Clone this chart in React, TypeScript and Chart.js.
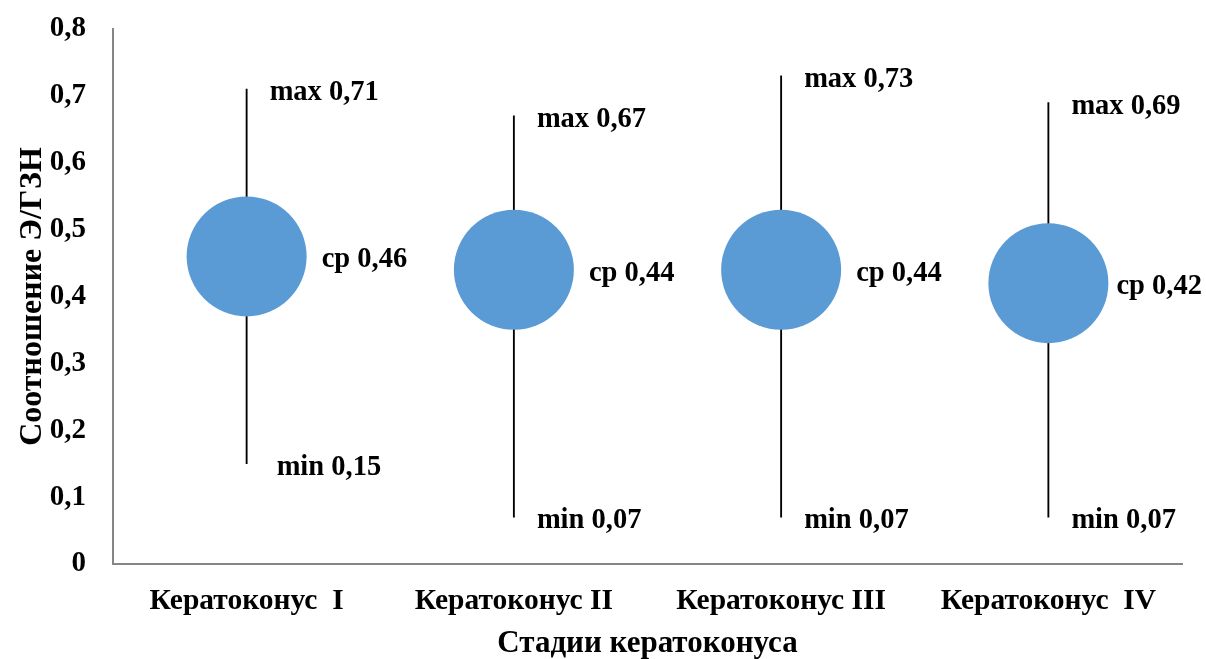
import React, { useEffect, useRef } from "react";
import { Chart, registerables } from "chart.js";

Chart.register(...registerables);

const categories = ["Кератоконус  I", "Кератоконус II", "Кератоконус III", "Кератоконус  IV"];
const minValues = [0.15, 0.07, 0.07, 0.07];
const maxValues = [0.71, 0.67, 0.73, 0.69];
const meanValues = [0.46, 0.44, 0.44, 0.42];
const yTicks = [0, 0.1, 0.2, 0.3, 0.4, 0.5, 0.6, 0.7, 0.8];

const FONT = "'Liberation Serif', 'Times New Roman', serif";
const FS_LABEL = 28.5;
const FS_TICK = 29;
const FS_CAT = 29.5;
const FS_XTITLE = 31;
const FS_YTITLE = 32;
const maxLabelDx = [23, 23, 23, 23];
const minLabelDx = [30, 23, 23, 23];
const meanLabelDx = [75, 75, 75, 68];
const labelDy = 11;

const fmt = (v: number) => (v === 0 ? "0" : v.toFixed(2).replace(/0$/, "").replace(".", ","));

const labelPlugin = {
  id: "rangeLabels",
  afterDatasetsDraw(chart: any) {
    const { ctx, scales } = chart;
    const xs = scales.x;
    const ys = scales.y;
    ctx.save();
    ctx.font = `bold ${FS_LABEL}px ${FONT}`;
    ctx.fillStyle = "#000";
    ctx.textAlign = "left";
    ctx.textBaseline = "alphabetic";
    categories.forEach((_, i) => {
      const x = xs.getPixelForValue(i);
      ctx.fillText("max " + fmt(maxValues[i]), x + maxLabelDx[i], ys.getPixelForValue(maxValues[i]) + labelDy);
      ctx.fillText("min " + fmt(minValues[i]), x + minLabelDx[i], ys.getPixelForValue(minValues[i]) + labelDy);
      ctx.fillText("ср " + fmt(meanValues[i]), x + meanLabelDx[i], ys.getPixelForValue(meanValues[i]) + labelDy);
    });
    ctx.restore();
  },
};

export default function App() {
  const ref = useRef<HTMLCanvasElement>(null);
  useEffect(() => {
    if (!ref.current) return;
    const chart = new Chart(ref.current, {
      type: "bar",
      data: {
        labels: categories,
        datasets: [
          {
            type: "bar",
            data: minValues.map((m, i) => [m, maxValues[i]]) as any,
            backgroundColor: "#000000",
            borderWidth: 0,
            barThickness: 1.2,
            order: 2,
          },
          {
            type: "line",
            data: meanValues,
            showLine: false,
            pointRadius: 60,
            pointHoverRadius: 60,
            pointBackgroundColor: "#5B9BD5",
            pointBorderWidth: 0,
            pointBorderColor: "#5B9BD5",
            order: 1,
          } as any,
        ],
      },
      options: {
        responsive: false,
        animation: false,
        layout: { autoPadding: false, padding: { top: 29, right: 24, left: 0, bottom: 0 } },
        plugins: { legend: { display: false }, tooltip: { enabled: false } },
        scales: {
          x: {
            grid: { display: false, drawTicks: false },
            border: { display: true, color: "#868686", width: 2 },
            ticks: { color: "#000", font: { family: FONT, size: FS_CAT, weight: "bold" }, padding: 20, maxRotation: 0, autoSkip: false },
            title: {
              display: true,
              text: "Стадии кератоконуса",
              color: "#000",
              font: { family: FONT, size: FS_XTITLE, weight: "bold" },
              padding: { top: 0, bottom: -4 },
            },
            afterFit: (s: any) => {
              s.height = 95;
              s.paddingLeft = 0;
              s.paddingRight = 0;
            },
          },
          y: {
            min: 0,
            max: 0.8,
            afterBuildTicks: (s: any) => {
              s.ticks = yTicks.map((v) => ({ value: v }));
            },
            grid: { display: false, drawTicks: false },
            border: { display: true, color: "#868686", width: 2 },
            ticks: {
              color: "#000",
              font: { family: FONT, size: FS_TICK, weight: "bold" },
              padding: 27,
              callback: (v: any) => fmt(Number(v)),
            },
            title: {
              display: true,
              text: "Соотношение Э/ГЗН",
              color: "#000",
              font: { family: FONT, size: FS_YTITLE, weight: "bold" },
              padding: { top: 14, bottom: 0 },
            },
            afterFit: (s: any) => {
              s.width = 113;
              s.paddingTop = 0;
              s.paddingBottom = 0;
            },
          },
        },
      },
      plugins: [labelPlugin],
    });
    return () => chart.destroy();
  }, []);
  return (
    <div style={{ position: "absolute", left: 0, top: 0, width: 1206, height: 659, background: "#fff" }}>
      <canvas ref={ref} width={1206} height={659} style={{ display: "block" }} />
    </div>
  );
}
